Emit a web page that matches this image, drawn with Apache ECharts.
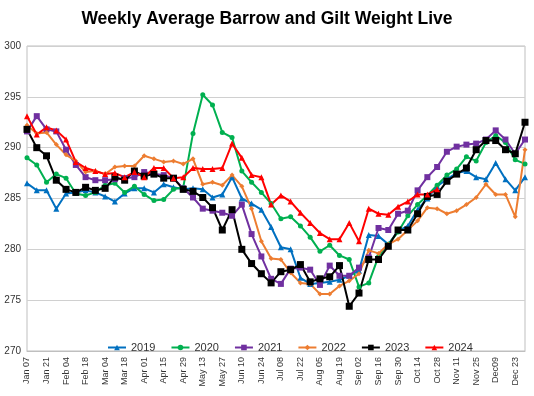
<!DOCTYPE html>
<html>
<head>
<meta charset="utf-8">
<script src="https://cdn.jsdelivr.net/npm/echarts@6/dist/echarts.min.js"></script>
<style>
  html, body { margin: 0; padding: 0; background: #fff; }
  #chart { width: 534px; height: 396px; }
</style>
</head>
<body>
<div id="chart"></div>
<script>
// week labels (every other one is shown on the axis)
const weeks = ["Jan 07", "Jan 14", "Jan 21", "Jan 28", "Feb 04", "Feb 11", "Feb 18", "Feb 25",
  "Mar 04", "Mar 11", "Mar 18", "Mar 25", "Apr 01", "Apr 08", "Apr 15", "Apr 22", "Apr 29",
  "May 06", "May 13", "May 20", "May 27", "Jun 03", "Jun 10", "Jun 17", "Jun 24", "Jul 01",
  "Jul 08", "Jul 15", "Jul 22", "Jul 29", "Aug 05", "Aug 12", "Aug 19", "Aug 26", "Sep 02",
  "Sep 09", "Sep 16", "Sep 23", "Sep 30", "Oct 07", "Oct 14", "Oct 21", "Oct 28", "Nov 04",
  "Nov 11", "Nov 18", "Nov 25", "Dec 02", "Dec09", "Dec 16", "Dec 23", "Dec 30"];

const y2019 = [286.5, 285.8, 285.8, 284.0, 285.5, 285.6, 285.8, 285.6, 285.2, 284.7,
  285.5, 286.0, 286.0, 285.6, 286.4, 286.1, 285.9, 286.0, 285.9, 285.1,
  285.4, 287.1, 285.0, 284.5, 283.9, 282.2, 280.2, 280.0, 277.2, 276.6,
  276.7, 276.8, 277.0, 277.4, 277.9, 281.4, 281.3, 280.5, 281.8, 282.3,
  283.9, 285.0, 286.2, 286.9, 287.5, 287.7, 287.1, 286.9, 288.5, 286.9,
  285.8, 287.1];
const y2020 = [289.0, 288.3, 286.6, 287.4, 287.0, 285.5, 285.3, 285.6, 286.3, 286.5,
  285.6, 286.2, 285.4, 284.8, 284.9, 285.9, 286.1, 291.4, 295.2, 294.2,
  291.5, 291.0, 287.7, 286.6, 285.6, 284.5, 283.0, 283.2, 282.3, 281.2,
  279.8, 280.4, 279.4, 279.0, 276.3, 276.7, 279.3, 280.5, 281.7, 283.3,
  284.4, 285.3, 286.3, 287.3, 287.9, 289.1, 288.7, 290.5, 291.2, 290.5,
  288.8, 288.4];
const y2021 = [291.6, 293.1, 291.8, 291.6, 289.8, 288.3, 287.1, 286.8, 286.8, 286.9,
  287.0, 287.1, 287.6, 287.4, 287.3, 287.0, 286.0, 285.1, 284.0, 283.8,
  283.6, 283.3, 284.4, 281.5, 279.3, 277.1, 276.6, 278.1, 278.2, 278.0,
  276.5, 278.4, 277.4, 277.4, 278.2, 279.2, 282.1, 281.9, 283.5, 283.8,
  285.8, 287.1, 288.1, 289.6, 290.1, 290.3, 290.4, 290.8, 291.7, 290.8,
  289.4, 290.8];
const y2022 = [292.2, 291.4, 291.5, 290.3, 289.3, 288.7, 287.6, 287.7, 287.4, 288.1,
  288.2, 288.2, 289.2, 288.9, 288.6, 288.7, 288.4, 288.9, 286.4, 286.6,
  286.3, 287.3, 286.2, 284.0, 280.8, 279.1, 279.0, 277.7, 276.7, 276.6,
  275.6, 275.6, 276.4, 276.9, 277.6, 279.9, 279.6, 280.5, 281.0, 281.9,
  282.8, 284.1, 284.0, 283.5, 283.8, 284.4, 285.1, 286.4, 285.4, 285.4,
  283.2, 289.8];
const y2023 = [291.8, 290.0, 289.2, 286.8, 285.9, 285.6, 286.1, 285.8, 286.0, 287.1,
  286.8, 287.7, 287.2, 287.4, 287.0, 287.0, 285.9, 285.7, 285.1, 284.1,
  281.9, 283.9, 280.0, 278.6, 277.6, 276.7, 277.8, 278.0, 278.5, 276.8,
  277.1, 277.3, 278.4, 274.4, 275.7, 279.0, 279.0, 280.3, 281.9, 281.9,
  283.5, 285.2, 285.4, 286.7, 287.4, 288.0, 289.8, 290.7, 290.7, 289.8,
  289.4, 292.5];
const y2024 = [293.1, 291.3, 292.0, 291.7, 290.8, 288.6, 288.0, 287.7, 287.4, 287.5,
  287.1, 287.6, 287.1, 288.0, 288.0, 287.0, 287.1, 288.0, 287.9, 287.9,
  288.0, 290.4, 289.0, 287.3, 287.1, 284.4, 285.3, 284.7, 283.6, 282.6,
  281.6, 281.0, 281.0, 282.6, 280.8, 284.0, 283.5, 283.4, 284.2, 284.7,
  285.4, 285.4, 285.9];

const years = ["2019", "2020", "2021", "2022", "2023", "2024"];
const values = [y2019, y2020, y2021, y2022, y2023, y2024];
const colors = ["#0070C0", "#00B050", "#7030A0", "#ED7D31", "#000000", "#FF0000"];
const symbols = ["triangle", "circle", "rect", "diamond", "rect", "triangle"];
const symbolSizes = [6, 5, 6, 5, 7, 6];

const chart = echarts.init(document.getElementById("chart"));

const series = years.map((name, i) => ({
  name: name,
  type: "line",
  data: values[i],
  symbol: symbols[i],
  symbolSize: symbolSizes[i],
  showAllSymbol: true,
  lineStyle: { color: colors[i], width: 2 },
  itemStyle: { color: colors[i] },
  animation: false
}));

chart.setOption({
  animation: false,
  textStyle: { fontFamily: "Liberation Sans" },
  title: {
    text: "Weekly Average Barrow and Gilt Weight Live",
    left: "center",
    top: 5,
    textStyle: { fontSize: 17.5, fontWeight: "bold", color: "#000", fontFamily: "Liberation Sans" }
  },
  legend: {
    data: years,
    left: 102,
    right: 20,
    top: 337,
    itemWidth: 18,
    itemHeight: 7,
    itemGap: 15,
    textStyle: { fontSize: 11, color: "#333" }
  },
  grid: {
    left: 27, right: 9, top: 46, bottom: 45,
    show: true, borderColor: "#bfbfbf", borderWidth: 1
  },
  xAxis: {
    type: "category",
    data: weeks,
    boundaryGap: false,
    axisLine: { lineStyle: { color: "#bfbfbf" } },
    axisTick: { show: false },
    axisLabel: { interval: 1, rotate: 90, fontSize: 9, color: "#333", margin: 6 }
  },
  yAxis: {
    type: "value",
    min: 270, max: 300, interval: 5,
    axisLine: { show: false },
    axisTick: { show: false },
    splitLine: { lineStyle: { color: "#d0d0d0", width: 1 } },
    axisLabel: { fontSize: 10, color: "#333", margin: 6 }
  },
  series: series
});
</script>
</body>
</html>
